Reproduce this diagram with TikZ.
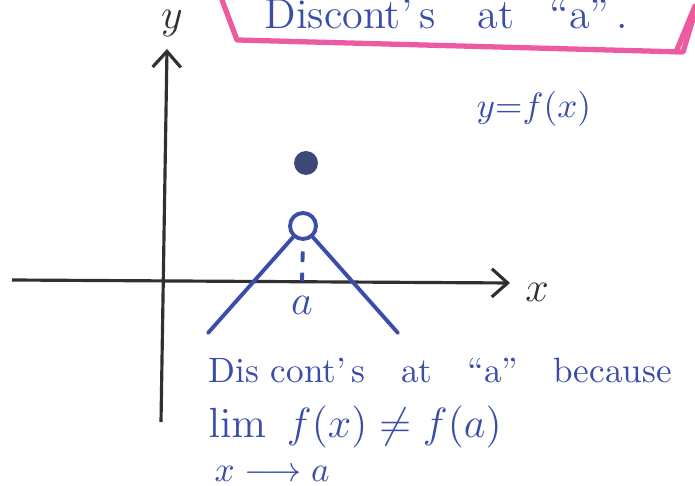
\documentclass[tikz,border=0pt]{standalone}
\usepackage{amsmath,amssymb}
\usetikzlibrary{arrows.meta,positioning}
\definecolor{ink}{HTML}{3A4DA8}
\definecolor{navy}{HTML}{3C4878}
\definecolor{marker}{HTML}{EE5AA0}
\definecolor{pencil}{HTML}{303030}
\tikzset{
  axisline/.style={draw=pencil, line width=0.9pt, -{Straight Barb[length=4.5pt,width=8pt]}},
  graphline/.style={draw=ink, line width=1.1pt, line cap=round},
  framing/.style={draw=marker, line width=1.5pt, line cap=round, line join=round},
  hole/.style={circle, draw=ink, fill=white, line width=1.1pt, minimum size=7.4pt, inner sep=0pt},
  filled/.style={circle, fill=navy, minimum size=6.8pt, inner sep=0pt},
  handtext/.style={text=ink, font=\large, inner sep=0pt},
  axislabel/.style={text=pencil, font=\large, inner sep=0pt}
}
\begin{document}
\begin{tikzpicture}[x=0.01cm, y=-0.01cm]
    \useasboundingbox (0,0) rectangle (695,486);
    % title frame
    \draw[framing] (222,0) -- (237,40) -- (683,52) -- (695,12);
    \draw[framing] (676,52) -- (695,6);
    \node[handtext, anchor=base west] (title) at (264,29)
      {Discont'\,s\quad at\enspace\ ``a''\,.};
    % axes
    \coordinate (xstart) at (12,280);
    \coordinate (xend) at (510,283);
    \coordinate (ystart) at (161,422);
    \coordinate (yend) at (167,49);
    \draw[axisline] (xstart) -- (xend);
    \draw[axisline] (ystart) -- (yend);
    \node[axislabel] (xlab) at (537,292) {$x$};
    \node[axislabel] (ylab) at (172,24) {$y$};
    \node[handtext, anchor=base west, font=\normalsize] (fname) at (476,118) {$y{=}f(x)$};
    % graph
    \node[filled] (val) at (306,163) {};
    \node[hole] (lim) at (303,226) {};
    \coordinate (lend) at (208,333);
    \coordinate (rend) at (398,333);
    \coordinate (foot) at (302,281);
    \draw[graphline] (lend) -- (lim);
    \draw[graphline] (lim) -- (rend);
    \draw[graphline, dashed, line cap=butt, shorten <=3pt] (lim.south) -- (foot);
    \node[handtext] (alab) at (302,305) {$a$};
    % reason
    \node[handtext, anchor=base west, font=\normalsize] (reason) at (208,383)
      {Dis cont'\,s\hspace{10pt}at\hspace{10pt}``a''\hspace{10pt}because};
    \node[handtext, anchor=base west] (limit) at (208,437)
      {$\lim\ f(x) \neq f(a)$};
    \node[handtext, anchor=base west, font=\normalsize] (approach) at (214,481)
      {$x \longrightarrow a$};
\end{tikzpicture}
\end{document}
